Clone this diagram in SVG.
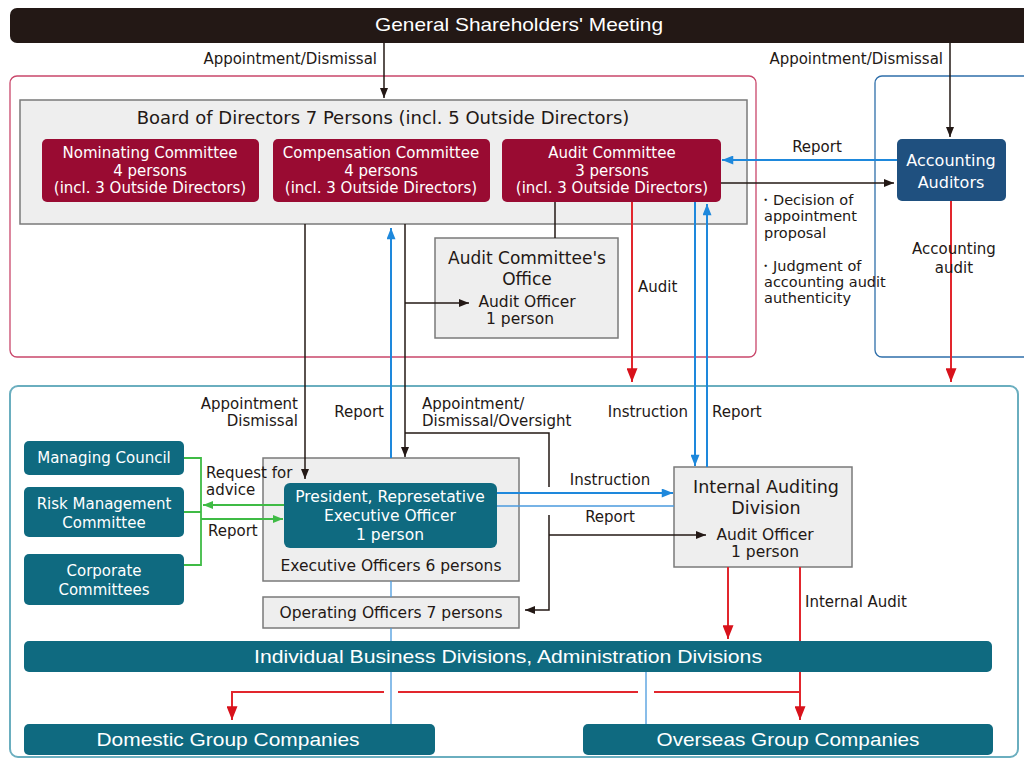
<svg xmlns="http://www.w3.org/2000/svg" width="1024" height="764" viewBox="0 0 1024 764">
<defs>
<style>
text{font-family:"DejaVu Sans","Noto Sans",sans-serif;fill:#231815}
.lbl{font-size:15px}
.bul{font-size:14.5px}
.w{fill:#fff}
.cond{font-family:"Liberation Sans",Arial,sans-serif;fill:#fff}
.gray{fill:#eeeeee;stroke:#7a7a7a;stroke-width:1.5}
.crim{fill:#990b32}
.teal{fill:#0f6a80}
.navy{fill:#1f507f}
.k{stroke:#231815;stroke-width:1.5;fill:none}
.b{stroke:#1e88dc;stroke-width:2;fill:none}
.b1{stroke:#4a9ade;stroke-width:1.3;fill:none}
.r{stroke:#e2262d;stroke-width:2;fill:none}
.g{stroke:#3fbb45;stroke-width:1.8;fill:none}
.mid{text-anchor:middle}
.end{text-anchor:end}
</style>
<marker id="ak" viewBox="0 0 10 8" refX="10" refY="4" markerWidth="11" markerHeight="8" orient="auto" markerUnits="userSpaceOnUse"><path d="M0,0 L10,4 L0,8 z" fill="#231815"/></marker>
<marker id="ab" viewBox="0 0 10 8" refX="10" refY="4" markerWidth="13" markerHeight="9" orient="auto" markerUnits="userSpaceOnUse"><path d="M0,0 L10,4 L0,8 z" fill="#1e88dc"/></marker>
<marker id="ar" viewBox="0 0 10 8" refX="10" refY="4" markerWidth="14" markerHeight="11" orient="auto" markerUnits="userSpaceOnUse"><path d="M0,0 L10,4 L0,8 z" fill="#d8121b"/></marker>
<marker id="ag" viewBox="0 0 10 8" refX="10" refY="4" markerWidth="12" markerHeight="8" orient="auto" markerUnits="userSpaceOnUse"><path d="M0,0 L10,4 L0,8 z" fill="#3fbb45"/></marker>
</defs>
<rect width="1024" height="764" fill="#fff"/>

<!-- section frames -->
<g id="frames">
<rect x="10" y="76" width="746" height="281" rx="7" fill="none" stroke="#c9476b" stroke-width="1.3"/>
<rect x="875" y="76" width="160" height="281" rx="7" fill="none" stroke="#2f6faa" stroke-width="1.3"/>
<rect x="10" y="386" width="1008" height="371" rx="8" fill="none" stroke="#6aaebf" stroke-width="2"/>
</g>

<!-- nodes -->
<g id="shareholders">
<rect x="10" y="8" width="1030" height="35" rx="7" fill="#231815"/>
<text class="cond mid" x="519" y="31" font-size="19" textLength="288" lengthAdjust="spacingAndGlyphs">General Shareholders' Meeting</text>
</g>

<g id="board">
<rect class="gray" x="20" y="100" width="727" height="124"/>
<text class="mid" x="383" y="124" font-size="18">Board of Directors 7 Persons (incl. 5 Outside Directors)</text>
</g>
<g id="nominating">
<rect class="crim" x="42" y="139" width="217" height="63" rx="5"/>
<text class="w mid" x="150" y="158" font-size="15">Nominating Committee</text>
<text class="w mid" x="150" y="176" font-size="15">4 persons</text>
<text class="w mid" x="150" y="193" font-size="15">(incl. 3 Outside Directors)</text>
</g>
<g id="compensation">
<rect class="crim" x="273" y="139" width="217" height="63" rx="5"/>
<text class="w mid" x="381" y="158" font-size="15">Compensation Committee</text>
<text class="w mid" x="381" y="176" font-size="15">4 persons</text>
<text class="w mid" x="381" y="193" font-size="15">(incl. 3 Outside Directors)</text>
</g>
<g id="audit-committee">
<rect class="crim" x="502" y="139" width="219" height="63" rx="5"/>
<text class="w mid" x="612" y="158" font-size="15">Audit Committee</text>
<text class="w mid" x="612" y="176" font-size="15">3 persons</text>
<text class="w mid" x="612" y="193" font-size="15">(incl. 3 Outside Directors)</text>
</g>
<g id="accounting-auditors">
<rect class="navy" x="897" y="139" width="109" height="62" rx="5"/>
<text class="w mid" x="951" y="166" font-size="16">Accounting</text>
<text class="w mid" x="951" y="188" font-size="16">Auditors</text>
</g>
<g id="audit-office">
<rect class="gray" x="435" y="238" width="183" height="100"/>
<text class="mid" x="527" y="264" font-size="17">Audit Committee's</text>
<text class="mid" x="527" y="285" font-size="17">Office</text>
<text class="mid" x="527" y="307" font-size="15.5">Audit Officer</text>
<text class="mid" x="520" y="324" font-size="15.5">1 person</text>
</g>

<g id="managing-council">
<rect class="teal" x="24" y="441" width="160" height="34" rx="5"/>
<text class="w mid" x="104" y="463" font-size="15">Managing Council</text>
</g>
<g id="risk-management">
<rect class="teal" x="24" y="487" width="160" height="50" rx="5"/>
<text class="w mid" x="104" y="509" font-size="15">Risk Management</text>
<text class="w mid" x="104" y="528" font-size="15">Committee</text>
</g>
<g id="corporate-committees">
<rect class="teal" x="24" y="554" width="160" height="51" rx="5"/>
<text class="w mid" x="104" y="576" font-size="15">Corporate</text>
<text class="w mid" x="104" y="595" font-size="15">Committees</text>
</g>

<g id="executive-officers">
<rect class="gray" x="263" y="458" width="256" height="123"/>
<text class="mid" x="391" y="571" font-size="15.5">Executive Officers 6 persons</text>
</g>
<g id="president">
<rect class="teal" x="284" y="483" width="213" height="65" rx="6"/>
<text class="w mid" x="390" y="502" font-size="15.5">President, Represetative</text>
<text class="w mid" x="390" y="521" font-size="15.5">Executive Officer</text>
<text class="w mid" x="390" y="540" font-size="15.5">1 person</text>
</g>
<g id="operating-officers">
<rect class="gray" x="263" y="597" width="256" height="31"/>
<text class="mid" x="391" y="618" font-size="15.5">Operating Officers 7 persons</text>
</g>
<g id="internal-auditing">
<rect class="gray" x="674" y="467" width="178" height="100"/>
<text class="mid" x="766" y="493" font-size="17.5">Internal Auditing</text>
<text class="mid" x="766" y="514" font-size="17.5">Division</text>
<text class="mid" x="765" y="540" font-size="15.5">Audit Officer</text>
<text class="mid" x="765" y="557" font-size="15.5">1 person</text>
</g>

<g id="business-divisions">
<rect class="teal" x="24" y="641" width="968" height="31" rx="5"/>
<text class="cond mid" x="508" y="663" font-size="19" textLength="508" lengthAdjust="spacingAndGlyphs">Individual Business Divisions, Administration Divisions</text>
</g>
<g id="domestic">
<rect class="teal" x="24" y="724" width="411" height="31" rx="5"/>
<text class="cond mid" x="228" y="746" font-size="19" textLength="263" lengthAdjust="spacingAndGlyphs">Domestic Group Companies</text>
</g>
<g id="overseas">
<rect class="teal" x="583" y="724" width="410" height="31" rx="5"/>
<text class="cond mid" x="788" y="746" font-size="19" textLength="263" lengthAdjust="spacingAndGlyphs">Overseas Group Companies</text>
</g>

<!-- connectors -->
<g id="connectors">
<!-- black -->
<line class="k" x1="384" y1="43" x2="384" y2="98" marker-end="url(#ak)"/>
<line class="k" x1="950" y1="43" x2="950" y2="137" marker-end="url(#ak)"/>
<line class="k" x1="721" y1="183" x2="894" y2="183" marker-end="url(#ak)"/>
<line class="k" x1="555" y1="202" x2="555" y2="238"/>
<line class="k" x1="305" y1="224" x2="305" y2="479" marker-end="url(#ak)"/>
<line class="k" x1="405" y1="224" x2="405" y2="457" marker-end="url(#ak)"/>
<line class="k" x1="405" y1="303" x2="469" y2="303" marker-end="url(#ak)"/>
<path class="k" d="M405,433 H549 V487"/>
<path class="k" d="M549,515 V610 H525" marker-end="url(#ak)"/>
<line class="k" x1="549" y1="535" x2="706" y2="535" marker-end="url(#ak)"/>
<!-- blue -->
<line class="b" x1="897" y1="160" x2="722" y2="160" marker-end="url(#ab)"/>
<line class="b" x1="695" y1="202" x2="695" y2="466" marker-end="url(#ab)"/>
<line class="b" x1="707" y1="467" x2="707" y2="204" marker-end="url(#ab)"/>
<line class="b" x1="391" y1="458" x2="391" y2="228" marker-end="url(#ab)"/>
<path class="b1" d="M391,581 V597 M391,628 V641 M391,672 V724"/>
<line class="b1" x1="646" y1="672" x2="646" y2="724"/>
<line class="b" x1="497" y1="493" x2="673" y2="493" marker-end="url(#ab)"/>
<line class="b1" x1="497" y1="506" x2="674" y2="506"/>
<!-- red -->
<line class="r" x1="632" y1="202" x2="632" y2="382" marker-end="url(#ar)"/>
<line class="r" x1="951" y1="201" x2="951" y2="382" marker-end="url(#ar)"/>
<line class="r" x1="728" y1="567" x2="728" y2="639" marker-end="url(#ar)"/>
<line class="r" x1="800" y1="567" x2="800" y2="641"/>
<line class="r" x1="800" y1="672" x2="800" y2="720" marker-end="url(#ar)"/>
<path class="r" d="M384,692 H232 V720" marker-end="url(#ar)"/>
<line class="r" x1="398" y1="692" x2="638" y2="692"/>
<line class="r" x1="654" y1="692" x2="800" y2="692"/>
<!-- green -->
<path class="g" d="M184,458 H201 V565 H184 M184,512 H201"/>
<line class="g" x1="284" y1="505" x2="203" y2="505" marker-end="url(#ag)"/>
<line class="g" x1="201" y1="519" x2="283" y2="519" marker-end="url(#ag)"/>
</g>

<!-- connector labels -->
<g id="labels">
<text class="lbl end" x="377" y="64">Appointment/Dismissal</text>
<text class="lbl end" x="943" y="64">Appointment/Dismissal</text>
<text class="lbl mid" x="817" y="152">Report</text>
<text class="bul" x="758" y="205">・Decision of</text>
<text class="bul" x="764" y="221">appointment</text>
<text class="bul" x="764" y="238">proposal</text>
<text class="bul" x="758" y="271">・Judgment of</text>
<text class="bul" x="764" y="287">accounting audit</text>
<text class="bul" x="764" y="303">authenticity</text>
<text class="lbl mid" x="954" y="254">Accounting</text>
<text class="lbl mid" x="954" y="273">audit</text>
<text class="lbl" x="638" y="292">Audit</text>
<text class="lbl end" x="298" y="409">Appointment</text>
<text class="lbl end" x="298" y="426">Dismissal</text>
<text class="lbl end" x="384" y="417">Report</text>
<text class="lbl" x="422" y="409">Appointment/</text>
<text class="lbl" x="422" y="426">Dismissal/Oversight</text>
<text class="lbl end" x="688" y="417">Instruction</text>
<text class="lbl" x="712" y="417">Report</text>
<text class="lbl" x="206" y="478">Request for</text>
<text class="lbl" x="206" y="495">advice</text>
<text class="lbl" x="208" y="536">Report</text>
<text class="lbl mid" x="610" y="485">Instruction</text>
<text class="lbl mid" x="610" y="522">Report</text>
<text class="lbl" x="805" y="607">Internal Audit</text>
</g>
</svg>
